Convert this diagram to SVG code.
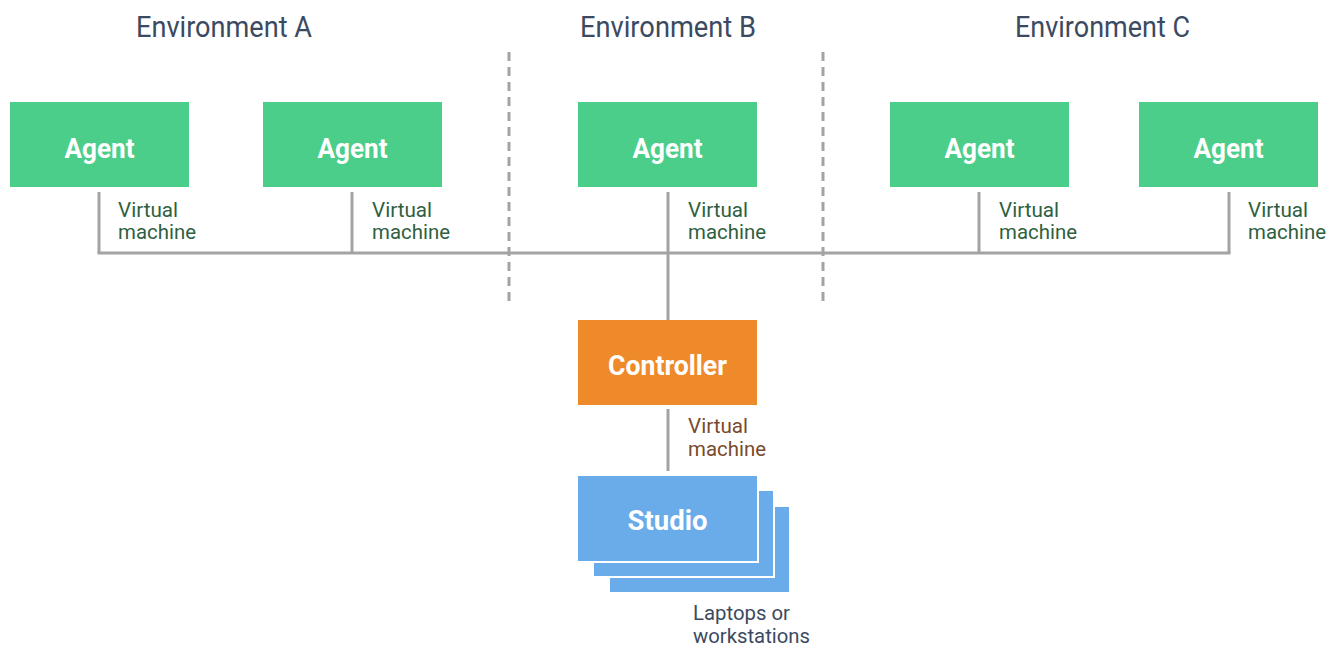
<svg xmlns="http://www.w3.org/2000/svg" width="1336" height="648" viewBox="0 0 1336 648">
  <style>
    .title { font-family: Roboto, "Liberation Sans", sans-serif; font-size: 29px; fill: #3b4a60; }
    .boxlabel { font-family: Roboto, "Liberation Sans", sans-serif; font-size: 28px; font-weight: bold; fill: #ffffff; text-anchor: middle; }
    .vm { font-family: Roboto, "Liberation Sans", sans-serif; font-size: 21px; fill: #2f5f41; }
    .vm-ctrl { font-family: Roboto, "Liberation Sans", sans-serif; font-size: 21px; fill: #7a4a2c; }
    .note { font-family: Roboto, "Liberation Sans", sans-serif; font-size: 21px; fill: #3b4a60; }
    .agent { fill: #4bce89; }
    .controller { fill: #ee8a2a; }
    .studio { fill: #6aabea; stroke: #ffffff; stroke-width: 2; }
    .wire { stroke: #a3a3a3; stroke-width: 3; fill: none; }
    .divider { stroke: #a3a3a3; stroke-width: 3; stroke-dasharray: 9 6; fill: none; }
  </style>

  <rect width="1336" height="648" fill="#ffffff"/>

  <!-- environment headings -->
  <text class="title" x="136" y="37" textLength="176" lengthAdjust="spacingAndGlyphs">Environment A</text>
  <text class="title" x="580" y="37" textLength="176" lengthAdjust="spacingAndGlyphs">Environment B</text>
  <text class="title" x="1015" y="37" textLength="175" lengthAdjust="spacingAndGlyphs">Environment C</text>

  <!-- environment dividers -->
  <line class="divider" x1="509" y1="52" x2="509" y2="302"/>
  <line class="divider" x1="823" y1="52" x2="823" y2="302"/>

  <!-- connectors -->
  <g id="connectors">
    <line class="wire" x1="99" y1="192" x2="99" y2="253"/>
    <line class="wire" x1="352" y1="192" x2="352" y2="253"/>
    <line class="wire" x1="668" y1="192" x2="668" y2="320"/>
    <line class="wire" x1="979" y1="192" x2="979" y2="253"/>
    <line class="wire" x1="1229" y1="192" x2="1229" y2="253"/>
    <line class="wire" x1="97.5" y1="253" x2="1230.5" y2="253"/>
    <line class="wire" x1="668" y1="409" x2="668" y2="471"/>
  </g>

  <!-- agents -->
  <g id="agent-a1">
    <rect class="agent" x="10" y="102" width="179" height="85"/>
    <text class="boxlabel" x="99.5" y="158" textLength="70" lengthAdjust="spacingAndGlyphs">Agent</text>
    <text class="vm" x="118" y="217" textLength="60" lengthAdjust="spacingAndGlyphs">Virtual</text>
    <text class="vm" x="118" y="239" textLength="78" lengthAdjust="spacingAndGlyphs">machine</text>
  </g>
  <g id="agent-a2">
    <rect class="agent" x="263" y="102" width="179" height="85"/>
    <text class="boxlabel" x="352.5" y="158" textLength="70" lengthAdjust="spacingAndGlyphs">Agent</text>
    <text class="vm" x="372" y="217" textLength="60" lengthAdjust="spacingAndGlyphs">Virtual</text>
    <text class="vm" x="372" y="239" textLength="78" lengthAdjust="spacingAndGlyphs">machine</text>
  </g>
  <g id="agent-b">
    <rect class="agent" x="578" y="102" width="179" height="85"/>
    <text class="boxlabel" x="667.5" y="158" textLength="70" lengthAdjust="spacingAndGlyphs">Agent</text>
    <text class="vm" x="688" y="217" textLength="60" lengthAdjust="spacingAndGlyphs">Virtual</text>
    <text class="vm" x="688" y="239" textLength="78" lengthAdjust="spacingAndGlyphs">machine</text>
  </g>
  <g id="agent-c1">
    <rect class="agent" x="890" y="102" width="179" height="85"/>
    <text class="boxlabel" x="979.5" y="158" textLength="70" lengthAdjust="spacingAndGlyphs">Agent</text>
    <text class="vm" x="999" y="217" textLength="60" lengthAdjust="spacingAndGlyphs">Virtual</text>
    <text class="vm" x="999" y="239" textLength="78" lengthAdjust="spacingAndGlyphs">machine</text>
  </g>
  <g id="agent-c2">
    <rect class="agent" x="1139" y="102" width="179" height="85"/>
    <text class="boxlabel" x="1228.5" y="158" textLength="70" lengthAdjust="spacingAndGlyphs">Agent</text>
    <text class="vm" x="1248" y="217" textLength="60" lengthAdjust="spacingAndGlyphs">Virtual</text>
    <text class="vm" x="1248" y="239" textLength="78" lengthAdjust="spacingAndGlyphs">machine</text>
  </g>

  <!-- controller -->
  <g id="controller">
    <rect class="controller" x="578" y="320" width="179" height="85"/>
    <text class="boxlabel" x="667.5" y="375" textLength="119" lengthAdjust="spacingAndGlyphs">Controller</text>
    <text class="vm-ctrl" x="688" y="433" textLength="60" lengthAdjust="spacingAndGlyphs">Virtual</text>
    <text class="vm-ctrl" x="688" y="456" textLength="78" lengthAdjust="spacingAndGlyphs">machine</text>
  </g>

  <!-- studio stack -->
  <g id="studio">
    <rect class="studio" x="609" y="506" width="181" height="87"/>
    <rect class="studio" x="593" y="490" width="181" height="87"/>
    <rect class="studio" x="577" y="475" width="181" height="87"/>
    <text class="boxlabel" x="667.5" y="530" textLength="80" lengthAdjust="spacingAndGlyphs">Studio</text>
    <text class="note" x="693" y="620" textLength="97" lengthAdjust="spacingAndGlyphs">Laptops or</text>
    <text class="note" x="693" y="643" textLength="117" lengthAdjust="spacingAndGlyphs">workstations</text>
  </g>
</svg>
